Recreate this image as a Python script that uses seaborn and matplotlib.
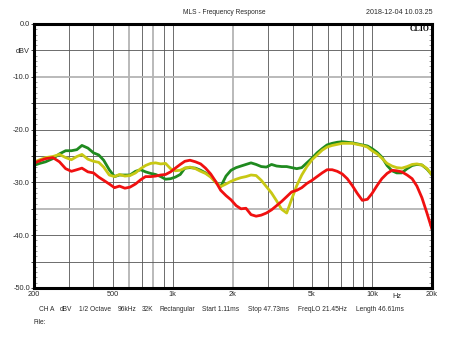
import matplotlib
matplotlib.use("Agg")
import matplotlib.pyplot as plt
from matplotlib.ticker import MultipleLocator, NullLocator
from matplotlib.transforms import blended_transform_factory
import numpy as np
import pandas as pd
import seaborn as sns

# ---- measurement data (1/2 octave smoothed, dBV) ----
freq_hz = [200, 215, 230, 250, 270, 290, 310, 330, 350, 375, 400, 425, 450, 480,
           510, 540, 575, 610, 650, 690, 730, 775, 820, 870, 920, 975, 1030, 1090,
           1150, 1220, 1300, 1380, 1460, 1550, 1640, 1740, 1850, 1960, 2080, 2200,
           2330, 2470, 2620, 2780, 2950, 3130, 3320, 3520, 3730, 3950, 4190, 4440,
           4710, 5000, 5300, 5620, 5950, 6310, 6690, 7090, 7510, 7960, 8440, 8940,
           9480, 10000, 10600, 11200, 11900, 12600, 13300, 14100, 15000, 15900,
           16800, 17800, 18900, 20000]

green_db = [-26.8, -26.4, -26.1, -25.5, -24.6, -24.0, -24.0, -23.8, -23.0, -23.5,
            -24.4, -24.8, -25.8, -27.6, -28.9, -28.6, -28.6, -28.6, -27.9, -27.6,
            -28.0, -28.3, -28.5, -28.9, -29.4, -29.3, -29.0, -28.5, -27.3, -27.2,
            -27.3, -27.7, -28.2, -28.8, -29.9, -30.8, -28.8, -27.7, -27.2, -26.9,
            -26.6, -26.3, -26.6, -27.0, -27.1, -26.6, -26.9, -27.0, -27.0, -27.2,
            -27.4, -27.2, -26.3, -25.4, -24.4, -23.6, -22.9, -22.6, -22.4, -22.3,
            -22.4, -22.5, -22.7, -22.9, -23.1, -23.6, -24.3, -25.2, -26.8, -27.8,
            -28.2, -28.2, -27.4, -26.8, -26.6, -26.7, -27.5, -28.6]

yellow_db = [-26.2, -25.7, -25.3, -25.1, -24.7, -25.3, -25.7, -25.1, -24.7, -25.6,
             -26.0, -26.2, -27.1, -28.6, -28.9, -28.5, -28.8, -28.7, -28.2, -27.4,
             -26.8, -26.4, -26.3, -26.5, -26.4, -27.4, -27.8, -27.7, -27.3, -27.1,
             -27.4, -27.9, -28.3, -29.0, -30.0, -30.8, -30.3, -29.8, -29.4, -29.1,
             -28.9, -28.6, -28.7, -29.6, -30.8, -32.0, -33.5, -35.1, -35.8, -33.2,
             -30.6, -28.6, -27.0, -25.7, -24.8, -23.9, -23.3, -23.0, -22.8, -22.6,
             -22.6, -22.6, -22.8, -23.0, -23.3, -24.0, -24.6, -25.4, -26.4, -26.9,
             -27.2, -27.3, -27.0, -26.6, -26.5, -26.7, -27.4, -28.6]

red_db = [-26.4, -25.9, -25.5, -25.3, -26.1, -27.4, -27.9, -27.6, -27.3, -28.0,
          -28.2, -29.0, -29.6, -30.3, -31.0, -30.7, -31.1, -30.9, -30.3, -29.5,
          -28.9, -28.9, -28.8, -28.6, -28.5, -28.0, -27.3, -26.6, -26.0, -25.8,
          -26.1, -26.5, -27.3, -28.4, -29.8, -31.5, -32.5, -33.3, -34.4, -35.0,
          -34.9, -36.1, -36.4, -36.2, -35.8, -35.2, -34.4, -33.6, -32.7, -31.8,
          -31.5, -31.0, -30.2, -29.6, -28.9, -28.2, -27.6, -27.6, -27.9, -28.4,
          -29.3, -30.6, -32.1, -33.4, -33.2, -32.1, -30.6, -29.3, -28.3, -27.7,
          -27.8, -28.0, -28.6, -29.3, -30.7, -32.9, -35.9, -38.9]

trace_names = ["green", "yellow", "red"]
trace_colors = {"green": "#1f8a1f", "yellow": "#c8c814", "red": "#f01010"}

x_tick_values = [200, 500, 1000, 2000, 5000, 10000, 20000]
x_tick_labels = ["200", "500", "1k", "2k", "5k", "10k", "20k"]
y_tick_values = [0, -5, -10, -15, -20, -25, -30, -35, -40, -45, -50]
y_tick_labels = ["0.0", "dBV", "-10.0", "", "-20.0", "", "-30.0", "", "-40.0", "", "-50.0"]

grid_freqs = [300, 400, 500, 600, 700, 800, 900, 1000, 2000, 3000, 4000, 5000,
              6000, 7000, 8000, 9000, 10000]
light_grid_freqs = [600, 800, 2000]
grid_levels = [-5, -10, -15, -20, -25, -30, -35, -40, -45]
light_grid_levels = [-10, -35]

info_items = ["CH A", "dBV", "1/2 Octave", "96kHz", "32K", "Rectangular",
              "Start 1.11ms", "Stop 47.73ms", "FreqLO 21.45Hz", "Length 46.61ms"]
info_x_px = [39, 60, 79.3, 117.3, 141.7, 159.3, 202.3, 247.7, 297.7, 356]

# ---- build long-form table ----
df = pd.DataFrame({
    "freq": freq_hz * 3,
    "level": green_db + yellow_db + red_db,
    "trace": [n for n in trace_names for _ in freq_hz],
})

sns.set_style("white")
plt.rcParams["font.family"] = ["Liberation Sans", "DejaVu Sans"]
text_color = "#2a2a2a"

W, H = 450, 337
fig = plt.figure(figsize=(W / 100, H / 100), dpi=100)
left, right, top, bottom = 33.5, 432, 24, 288
ax = fig.add_axes([left / W, 1 - bottom / H, (right - left) / W, (bottom - top) / H])

# grid
for f in grid_freqs:
    light = f in light_grid_freqs
    ax.axvline(f, color="#b4b4b4" if light else "#555555",
               lw=1.3 if light else 0.6, zorder=1)
for lv in grid_levels:
    light = lv in light_grid_levels
    ax.axhline(lv, color="#b4b4b4" if light else "#555555",
               lw=1.3 if light else 0.6, zorder=1)

sns.lineplot(data=df, x="freq", y="level", hue="trace", hue_order=trace_names,
             palette=trace_colors, lw=2.0, legend=False, ax=ax, zorder=3,
             estimator=None, sort=False)

ax.set_xscale("log")
ax.set_xlim(200, 20000)
ax.set_ylim(-50, 0)
ax.set_xlabel("")
ax.set_ylabel("")

ax.set_xticks(x_tick_values)
ax.set_xticklabels(x_tick_labels)
ax.xaxis.set_minor_locator(NullLocator())
ax.tick_params(axis="x", which="both", length=0, pad=2.5, labelsize=5.3,
               labelcolor=text_color)

ax.set_yticks(y_tick_values)
ax.set_yticklabels(y_tick_labels)
ax.yaxis.set_minor_locator(MultipleLocator(1))
ax.tick_params(axis="y", which="major", direction="out", length=2, width=0.6,
               pad=0.5, labelsize=5.3, labelcolor=text_color, left=True, right=False)
ax.tick_params(axis="y", which="minor", direction="in", length=2, width=0.5,
               left=True, right=True, color="#777777")

for s in ax.spines.values():
    s.set_visible(True)
    s.set_linewidth(2.2)
    s.set_color("black")
    s.set_zorder(5)

trans = blended_transform_factory(ax.transAxes, fig.transFigure)
ax.text((396.8 - left) / (right - left), 1 - 296 / H, "Hz", transform=trans,
        ha="center", va="center", fontsize=5.3, color=text_color)

fig.text(224.5 / W, 1 - 12.3 / H, "MLS - Frequency Response", ha="center",
         va="center", fontsize=4.8, color=text_color)
fig.text(432.5 / W, 1 - 12.3 / H, "2018-12-04 10.03.25", ha="right",
         va="center", fontsize=5.1, color=text_color)
fig.text(430 / W, 1 - 29 / H, "CLIO", ha="right", va="center", fontsize=5.6,
         fontweight="bold", family=["Liberation Serif", "DejaVu Serif"], color="black")

for label, px in zip(info_items, info_x_px):
    fig.text(px / W, 1 - 309.5 / H, label, ha="left", va="center", fontsize=4.8,
             color=text_color)
fig.text(34 / W, 1 - 322.5 / H, "File:", ha="left", va="center", fontsize=4.8,
         color=text_color)

fig.savefig("out.png", dpi=100, facecolor="white")
